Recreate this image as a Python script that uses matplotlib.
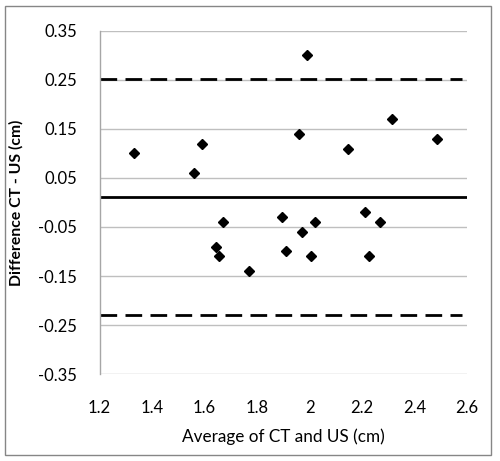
import matplotlib
matplotlib.use("Agg")
import matplotlib.pyplot as plt
from matplotlib.patches import Rectangle

# Bland-Altman data: average vs difference (CT - US)
avg = [1.33, 1.56, 1.59, 1.99, 1.96, 2.145, 2.315, 2.485,
       1.67, 1.645, 1.655, 1.77, 1.895, 1.91, 1.97, 2.02, 2.005, 2.21, 2.27, 2.225]
diff = [0.10, 0.06, 0.12, 0.30, 0.14, 0.11, 0.17, 0.13,
        -0.04, -0.09, -0.11, -0.14, -0.03, -0.10, -0.06, -0.04, -0.11, -0.02, -0.04, -0.11]
mean_diff = 0.011
upper_loa = 0.252
lower_loa = -0.23

xticks = [1.2, 1.4, 1.6, 1.8, 2.0, 2.2, 2.4, 2.6]
xticklabels = ["1.2", "1.4", "1.6", "1.8", "2", "2.2", "2.4", "2.6"]
yticks = [0.35, 0.25, 0.15, 0.05, -0.05, -0.15, -0.25, -0.35]

plt.rcParams['font.family'] = ['Lato', 'DejaVu Sans']

fig = plt.figure(figsize=(5, 4.61), dpi=100)
ax = fig.add_axes([0.199, 0.1887, 0.735, 0.7441])

for y in yticks:
    ax.axhline(y, color='#bfbfbf', lw=1, zorder=1)

ax.plot([1.2, 2.58], [upper_loa, upper_loa], color='black', lw=2, ls=(0, (6, 3)), zorder=2)
ax.plot([1.2, 2.58], [lower_loa, lower_loa], color='black', lw=2, ls=(0, (6, 3)), zorder=2)
ax.plot([1.2, 2.6], [mean_diff, mean_diff], color='black', lw=2, zorder=2)

ax.plot(avg, diff, 'D', color='black', ms=5.2, zorder=3)

ax.set_xlim(1.2, 2.6)
ax.set_ylim(-0.35, 0.35)
ax.set_xticks(xticks)
ax.set_xticklabels(xticklabels)
ax.set_yticks(yticks)
ax.set_yticklabels(["%.2f" % v for v in yticks])
ax.tick_params(axis='both', length=0, labelsize=12)
ax.tick_params(axis='y', pad=16)
ax.tick_params(axis='x', pad=19)

for s in ['top', 'right', 'bottom']:
    ax.spines[s].set_visible(False)
ax.spines['left'].set_color('#a6a6a6')
ax.spines['left'].set_linewidth(1)

ax.set_xlabel("Average of CT and US (cm)", fontsize=12.3, labelpad=9)
ax.set_ylabel("Difference CT - US (cm)", fontsize=11.3, fontweight='bold', labelpad=11)

fig.patches.append(Rectangle((0.01, 0.013), 0.972, 0.974, transform=fig.transFigure,
                             fill=False, edgecolor='#868686', lw=1))

fig.savefig("out.png", dpi=100)
